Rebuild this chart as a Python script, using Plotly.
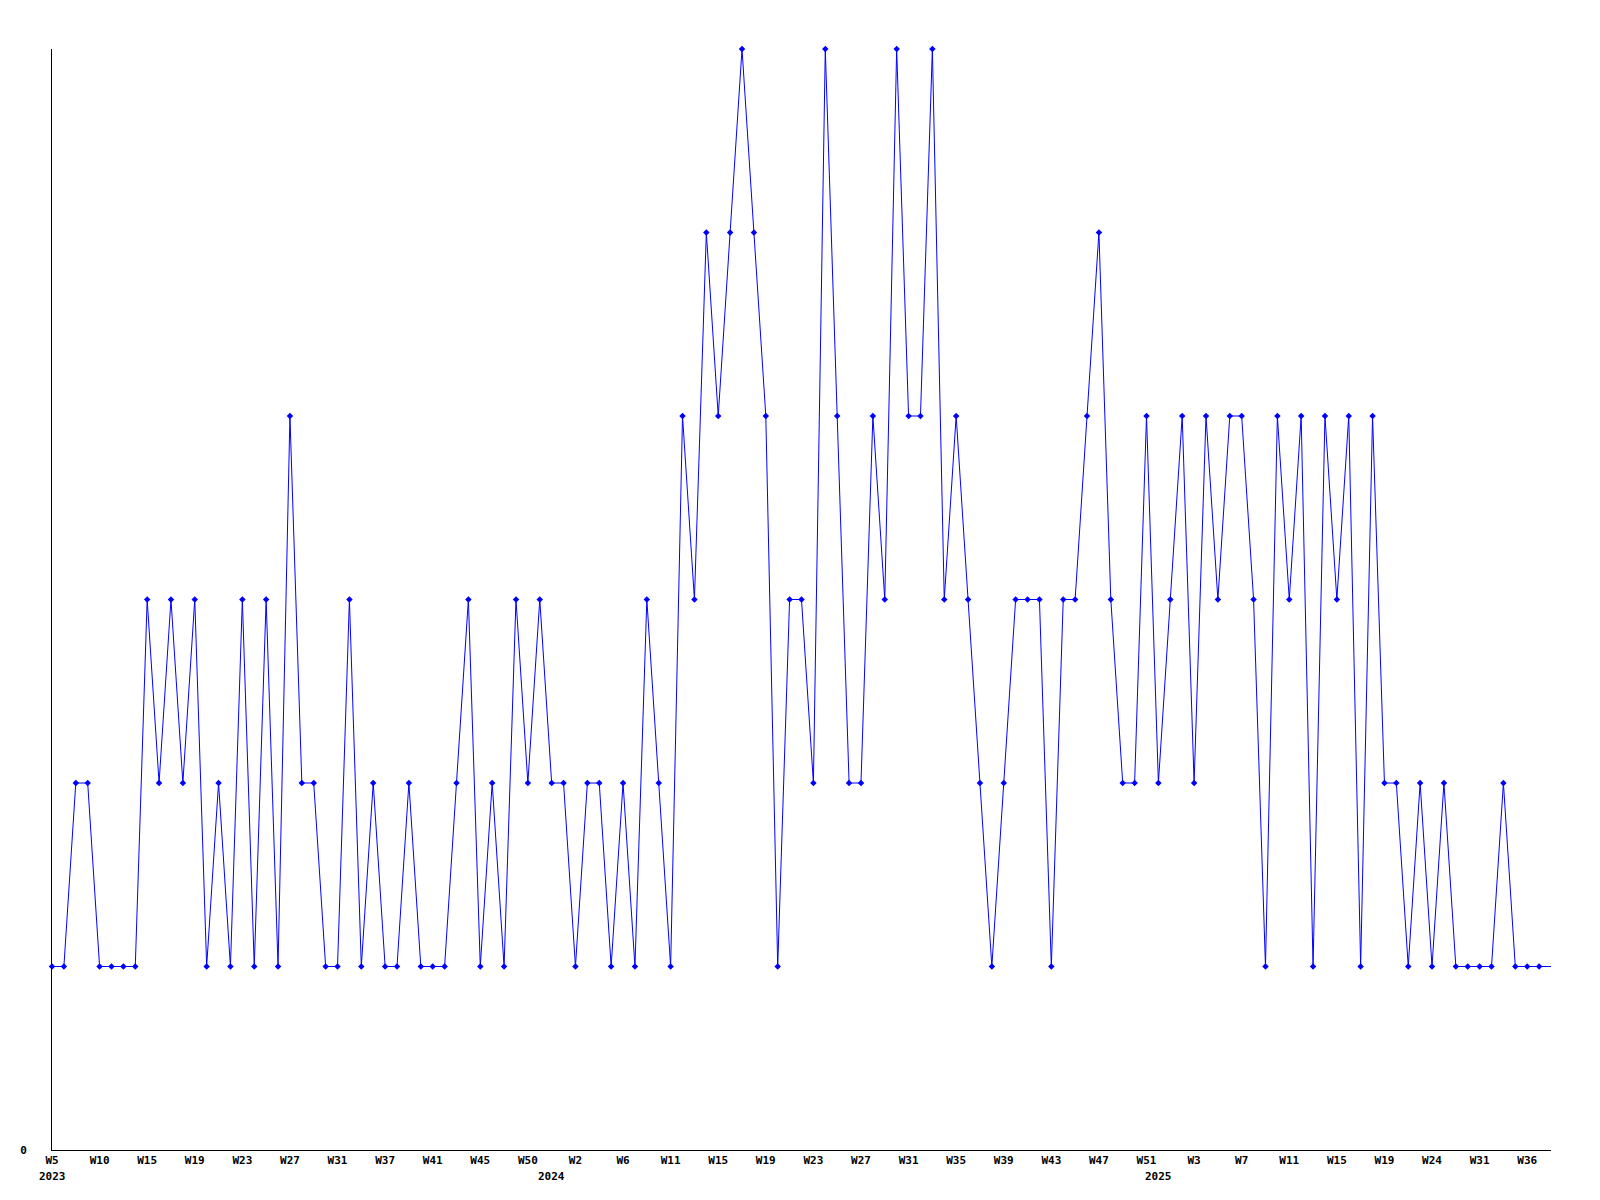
import plotly.graph_objects as go

values = [
    1, 1, 2, 2, 1, 1, 1, 1, 3, 2,
    3, 2, 3, 1, 2, 1, 3, 1, 3, 1,
    4, 2, 2, 1, 1, 3, 1, 2, 1, 1,
    2, 1, 1, 1, 2, 3, 1, 2, 1, 3,
    2, 3, 2, 2, 1, 2, 2, 1, 2, 1,
    3, 2, 1, 4, 3, 5, 4, 5, 6, 5,
    4, 1, 3, 3, 2, 6, 4, 2, 2, 4,
    3, 6, 4, 4, 6, 3, 4, 3, 2, 1,
    2, 3, 3, 3, 1, 3, 3, 4, 5, 3,
    2, 2, 4, 2, 3, 4, 2, 4, 3, 4,
    4, 3, 1, 4, 3, 4, 1, 4, 3, 4,
    1, 4, 2, 2, 1, 2, 1, 2, 1, 1,
    1, 1, 2, 1, 1, 1, 1,
]

tick_labels = [
    "W5", "W10", "W15", "W19", "W23", "W27", "W31", "W37", "W41", "W45", "W50",
    "W2", "W6", "W11", "W15", "W19", "W23", "W27", "W31", "W35", "W39", "W43",
    "W47", "W51", "W3", "W7", "W11", "W15", "W19", "W24", "W31", "W36",
]
tick_step = 4

year_labels = ["2023", "2024", "2025"]
year_index = [0, 42, 93]

y_labels = ["0"]
y_ticks = [0]

x = list(range(len(values)))
blue = "#0000FF"
font = dict(family="DejaVu Sans Mono", size=11, color="black", weight="bold")

fig = go.Figure()
fig.add_trace(go.Scatter(
    x=x, y=values, mode="lines",
    line=dict(color=blue, width=1),
    cliponaxis=False, hoverinfo="skip",
))
fig.add_trace(go.Scatter(
    x=x[:-1], y=values[:-1], mode="markers",
    marker=dict(symbol="diamond", size=5, color=blue),
    cliponaxis=False,
))

for lab, idx in zip(year_labels, year_index):
    fig.add_annotation(
        x=idx, y=0, xref="x", yref="y", text=lab, showarrow=False,
        yanchor="top", xanchor="center", yshift=-18, font=font,
    )

fig.update_layout(
    width=1600, height=1200,
    margin=dict(l=42, r=57, t=41, b=58),
    plot_bgcolor="white", paper_bgcolor="white",
    showlegend=False,
    xaxis=dict(
        range=[0, len(values) - 1],
        showline=True, linecolor="black", linewidth=1,
        showgrid=False, zeroline=False,
        tickvals=[i * tick_step for i in range(len(tick_labels))],
        ticktext=tick_labels, ticks="", tickfont=font,
        tickangle=0,
    ),
    yaxis=dict(
        range=[0, 6],
        showline=True, linecolor="black", linewidth=1,
        showgrid=False, zeroline=False,
        tickvals=y_ticks, ticktext=y_labels, ticks="",
        tickfont=font, ticklabelstandoff=22,
    ),
)

fig.write_html("out.html")
